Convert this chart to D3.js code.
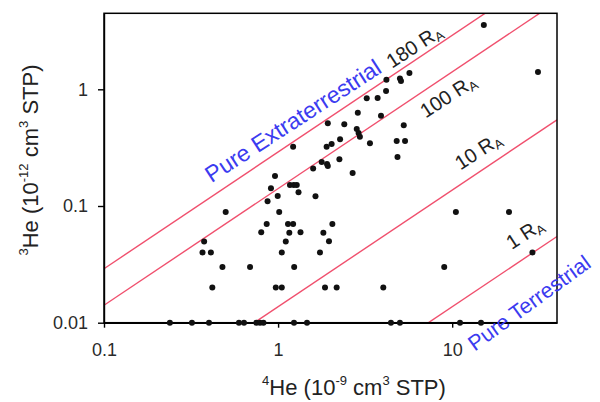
<!DOCTYPE html>
<html><head><meta charset="utf-8">
<script src="https://cdn.jsdelivr.net/npm/d3@7"></script>
<style>html,body{margin:0;padding:0;background:#fff;}svg{display:block;}</style>
</head><body>
<script>
// ---- data ----
const he4 = [15.2,31.1,5.68,5.01,5.08,4.19,4.17,3.23,3.73,2.87,3.90,1.93,2.40,5.27,2.83,2.90,2.95,2.27,2.03,1.90,
  1.22,3.37,4.80,5.36,4.85,1.78,1.91,1.93,2.25,1.59,2.68,0.96,0.91,1.17,1.23,1.28,0.995,1.31,1.64,0.87,
  0.50,1.015,10.5,21.2,0.86,1.14,1.22,2.05,0.80,1.16,1.345,1.82,0.376,1.107,1.96,0.368,0.411,1.05,1.74,28.9,
  0.479,0.69,1.237,9.0,0.419,0.97,1.05,1.86,2.17,4.02,
  0.239,0.320,0.401,0.596,0.637,0.751,0.787,0.824,1.234,1.466,4.45,5.01,11.09,14.64];
const he3 = [3.56,1.41,1.38,1.24,1.18,1.21,0.967,0.837,0.842,0.630,0.594,0.511,0.502,0.492,0.457,0.422,0.393,0.373,0.340,0.322,
  0.322,0.345,0.361,0.361,0.263,0.238,0.229,0.220,0.251,0.210,0.192,0.181,0.142,0.151,0.151,0.151,0.122,0.131,0.121,0.110,
  0.089,0.089,0.089,0.089,0.070,0.070,0.070,0.070,0.0595,0.059,0.0595,0.059,0.0496,0.0496,0.0498,0.040,0.040,0.040,0.040,0.040,
  0.030,0.030,0.030,0.030,0.020,0.020,0.020,0.020,0.020,0.020,
  0.01,0.01,0.01,0.01,0.01,0.01,0.01,0.01,0.01,0.01,0.01,0.01,0.01,0.01];
// ratio lines: label (in R_A) and slope 3He/4He in plotted units
const lineLabels = ["1", "10", "100", "180"];
const lineSlopes = [0.00137, 0.0137, 0.141, 0.29];
// label anchor points (data space)
const lineLabelX = [27.4, 14.8, 9.93, 6.36];
const lineLabelY = [0.0519, 0.2645, 0.783, 2.09];
const xTicks = [0.1, 1, 10];
const xTickLabels = ["0.1", "1", "10"];
const yTicks = [0.01, 0.1, 1];
const yTickLabels = ["0.01", "0.1", "1"];
const xDomain = [0.1, 40];
const yDomain = [0.01, 4.48];

const W = 600, H = 402;
const L = 104, R = 557, T = 13.3, B = 322.7;
const FONT = "Arial, 'Liberation Sans', sans-serif";

const svg = d3.select("body").append("svg").attr("width", W).attr("height", H)
  .style("font-family", FONT);

const x = d3.scaleLog().domain(xDomain).range([L, R]);
const y = d3.scaleLog().domain(yDomain).range([B, T]);

svg.append("defs").append("clipPath").attr("id", "clip")
  .append("rect").attr("x", L).attr("y", T).attr("width", R - L).attr("height", B - T);

// ratio lines
const lineGen = d3.line().x(d => x(d[0])).y(d => y(d[1]));
svg.append("g").attr("clip-path", "url(#clip)")
  .selectAll("path").data(lineSlopes).join("path")
  .attr("d", k => lineGen([[xDomain[0], k * xDomain[0]], [xDomain[1], k * xDomain[1]]]))
  .attr("fill", "none").attr("stroke", "#f0506e").attr("stroke-width", 1.4);

// axes
const xAxis = svg.append("g").attr("transform", `translate(0,${B})`)
  .call(d3.axisBottom(x).tickValues(xTicks).tickFormat((d, i) => xTickLabels[i]).tickSize(5).tickSizeOuter(0));
xAxis.selectAll("text").attr("y", 21).attr("font-size", 18).attr("fill", "#2a2a2a").style("font-family", FONT);
const yAxis = svg.append("g").attr("transform", `translate(${L},0)`)
  .call(d3.axisLeft(y).tickValues(yTicks).tickFormat((d, i) => yTickLabels[i]).tickSize(6).tickSizeOuter(0));
yAxis.selectAll("text").attr("x", -16).attr("font-size", 18).attr("fill", "#2a2a2a").style("font-family", FONT);
svg.selectAll(".domain, .tick line").attr("stroke", "#000").attr("stroke-width", 1.4);

// frame
svg.append("rect").attr("x", L).attr("y", T).attr("width", R - L).attr("height", B - T)
  .attr("fill", "none").attr("stroke", "#000").attr("stroke-width", 1.5);

// points
svg.append("g").selectAll("circle").data(he4.map((v, i) => [v, he3[i]])).join("circle")
  .attr("cx", d => x(d[0])).attr("cy", d => y(d[1])).attr("r", 3).attr("fill", "#111");

// line labels
const ang = -33;
lineLabels.forEach((lab, i) => {
  const t = svg.append("text")
    .attr("transform", `translate(${x(lineLabelX[i])},${y(lineLabelY[i])}) rotate(${ang})`)
    .attr("text-anchor", "middle").attr("font-size", 20).attr("fill", "#222");
  t.append("tspan").text(lab + " R");
  t.append("tspan").attr("font-size", 13).attr("dy", 3).text("A");
});

// region annotations
const annText = ["Pure Extraterrestrial", "Pure Terrestrial"];
const annX = [1.29, 29.3], annY = [0.471, 0.0131], annAng = [-33, -36];
const annSize = [23, 21.5];
annText.forEach((s, i) => {
  svg.append("text")
    .attr("transform", `translate(${x(annX[i])},${y(annY[i])}) rotate(${annAng[i]})`)
    .attr("text-anchor", "middle").attr("font-size", annSize[i]).attr("fill", "#3b3bf0").text(s);
});

// axis titles
const xt = svg.append("text").attr("x", 354).attr("y", 395).attr("text-anchor", "middle")
  .attr("font-size", 22).attr("fill", "#222");
xt.append("tspan").attr("font-size", 13).attr("dy", -10).text("4");
xt.append("tspan").attr("dy", 10).text("He (10");
xt.append("tspan").attr("font-size", 13).attr("dy", -10).text("-9");
xt.append("tspan").attr("dy", 10).text(" cm");
xt.append("tspan").attr("font-size", 13).attr("dy", -10).text("3");
xt.append("tspan").attr("dy", 10).text(" STP)");

const yt = svg.append("text").attr("transform", "translate(38,160) rotate(-90)")
  .attr("text-anchor", "middle").attr("font-size", 22).attr("fill", "#222");
yt.append("tspan").attr("font-size", 13).attr("dy", -10).text("3");
yt.append("tspan").attr("dy", 10).text("He (10");
yt.append("tspan").attr("font-size", 13).attr("dy", -10).text("-12");
yt.append("tspan").attr("dy", 10).text(" cm");
yt.append("tspan").attr("font-size", 13).attr("dy", -10).text("3");
yt.append("tspan").attr("dy", 10).text(" STP)");
</script>
</body></html>
